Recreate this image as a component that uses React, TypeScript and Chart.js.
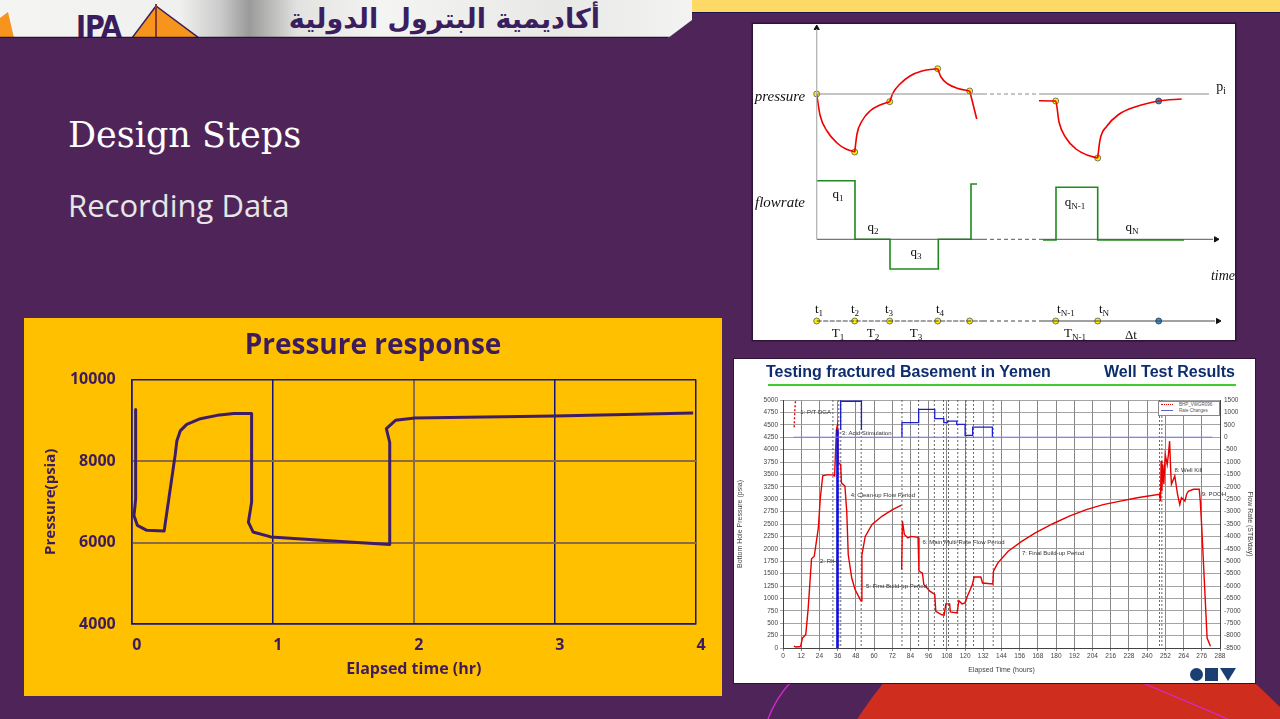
import React, { useEffect, useRef } from "react";
import { Chart, registerables } from "chart.js";
Chart.register(...registerables);

// ---------------- Main chart: Pressure response ----------------
const elapsedHours = [0.028, 0.028, 0.022, 0.016, 0.04, 0.107, 0.23, 0.309, 0.32, 0.344, 0.39, 0.487, 0.606, 0.724, 0.85, 0.85, 0.827, 0.86, 0.986, 1.342, 1.829, 1.829, 1.805, 1.87, 2.007, 3.0, 3.98];
const pressurePsia = [9268, 7073, 6850, 6666, 6422, 6300, 6285, 8170, 8495, 8740, 8902, 9040, 9122, 9170, 9170, 6992, 6500, 6260, 6138, 6056, 5951, 8456, 8797, 9000, 9056, 9105, 9178];
const xTickValues = [0, 1, 2, 3, 4];
const yTickValues = [4000, 6000, 8000, 10000];

const TEXT_PURPLE = "#3D1C5C";
const LINE_PURPLE = "#3F1D66";
const NAVY = "#13157A";
const BROWN = "#8C6A46";
const SLIDE_BG = "#4F2559";

// ---------------- Schematic diagram (multi-rate test) ----------------
const drawdown1 = [[63.7, 70], [67, 91], [74, 107], [84, 119], [93, 125], [101.7, 128]];
const buildup2 = [[101.7, 128], [104, 110], [109, 97], [117, 87], [127, 81], [136.7, 77.7]];
const buildup3 = [[136.7, 77.7], [140, 69], [147, 60], [157, 52], [169, 47], [184.7, 44.7]];
const decline4 = [[184.7, 44.7], [188, 53], [195, 60], [205, 64.5], [216.7, 67]];
const drop5 = [[216.7, 67], [223.7, 95]];
const drawdownN = [[286, 76.7], [302.7, 77], [306, 98], [313, 114], [323, 125], [334, 131], [344.7, 134]];
const buildupN = [[344.7, 134], [347, 116], [354, 102], [365, 91], [382, 83], [405.7, 77], [428.7, 75]];
const rateSteps1 = [[63.7, 156.7], [102, 156.7], [102, 215.3], [137, 215.3], [137, 245], [185.3, 245], [185.3, 215.3], [218, 215.3], [218, 160], [224, 160]];
const rateSteps2 = [[290, 216], [303, 216], [303, 163.3], [344.7, 163.3], [344.7, 216], [431, 216]];
const timePoints = [63.7, 101.7, 136.7, 184.7, 216.7, 302.7, 344.7];
const pressurePoints = [[63.7, 70], [101.7, 128], [136.7, 77.7], [184.7, 44.7], [216.7, 67], [302.7, 77], [344.7, 134]];

// ---------------- Well test results ----------------
const bhpSeries: [number, number | null][] = [
  [7.2, 40], [8.5, 20], [11.6, 30], [12.8, 200], [15, 270], [16.6, 800], [18.8, 1800], [20.6, 1850], [23.3, 2420], [24.6, 3030],
  [26.2, 3470], [28.5, 3490], [33, 3490], [34, 3470], [35.2, 4400], [35.9, 4500], [36.3, 3735], [38, 3700], [38.5, 3330], [40.8, 3265],
  [42, 2760], [43, 1880], [45.3, 1410], [47.5, 1180], [50.9, 975], [51.5, 950], [52, 1880], [54.2, 2250], [58.7, 2490], [65.4, 2660],
  [72.2, 2790], [78.1, 2880], [78.15, null], [78.2, 1580], [78.7, 2560], [80, 2290], [82.3, 2220], [84.5, 2250], [89, 2230], [89.6, 1550],
  [91.9, 1510], [92.8, 1280], [96.8, 1145], [100, 1080], [100.7, 740], [104.7, 670], [106.2, 660], [107.3, 890], [109.8, 890], [110.3, 727],
  [114.7, 707], [115.9, 955], [118, 890], [119.9, 910], [121.5, 1043], [124.8, 1280], [126, 1430], [130.4, 1430], [131.5, 1310], [138.3, 1290],
  [138.7, 1550], [141.6, 1716], [148.4, 1950], [157.3, 2150], [166.3, 2320], [177.5, 2500], [188.7, 2660], [199.9, 2790], [211, 2890], [222.3, 2960],
  [233.5, 3030], [248, 3100], [248.8, 2960], [249.2, 3770], [249.7, 3160], [250.3, 3700], [251, 3300], [251.9, 3900], [253.2, 3700], [254, 3900],
  [254.8, 4170], [255.5, 3570], [256, 3300], [258.2, 3470], [260, 3100], [261.5, 2890], [262.6, 3030], [264.9, 2960], [266, 3100], [267.1, 3160],
  [270.5, 3200], [274.3, 3200], [275, 2960], [276, 2420], [277.9, 1210], [279.5, 200], [281.7, 34],
];
const bhpDotted = [[7.4, 4450], [7.8, 4800], [8.3, 5000]];
const rateSteps: [number, number | null][] = [
  [38, 300], [38, 1450], [51.7, 1450], [51.7, 300], [60, null],
  [78.4, 0], [78.4, 585], [89.4, 585], [89.4, 1120], [100, 1120], [100, 746], [106, 746], [106, 585], [108.5, 585], [108.5, 650],
  [114.5, 650], [114.5, 517], [120, 517], [120, 73], [125, 73], [125, 410], [138, 410], [138, 0],
];
const injectionSpike = [[35.9, 300], [35.9, -8500]];
const rateBaseline = [[7, 0], [283, 0]];
const eventTimes = [32.9, 36.8, 38.1, 51.5, 78.4, 89.4, 99.7, 105.8, 109.1, 115.2, 120.6, 125.5, 138.5, 248.1, 249.7];
const eventLabels = ["1: P/T DGA", "2: RIH", "3: Acid Stimulation", "4: Clean-up Flow Period", "5: First Build-up Period", "6: Main Multi-Rate Flow Period", "7: Final Build-up Period", "8: Well Kill", "9: POOH"];
const eventLabelHours = [9.4, 22.4, 36.8, 42.6, 52.7, 90, 155.5, 256, 274];
const eventLabelPsi = [4760, 1750, 4330, 3075, 1245, 2130, 1900, 3590, 3100];

const pts = (arr: any[]) => arr.map(([x, y]) => ({ x, y }));
const plain = (v: any) => String(v);

function makeMain(canvas: HTMLCanvasElement) {
  const font = "'Open Sans', 'DejaVu Sans', sans-serif";
  return new Chart(canvas, {
    type: "scatter",
    data: {
      datasets: [
        {
          data: elapsedHours.map((x, i) => ({ x, y: pressurePsia[i] })),
          showLine: true,
          borderColor: LINE_PURPLE,
          borderWidth: 3,
          pointRadius: 0,
          tension: 0,
          borderJoinStyle: "round",
        } as any,
      ],
    },
    options: {
      responsive: false,
      animation: false,
      layout: { autoPadding: false, padding: { left: 26, right: 26, top: 0, bottom: 0 } },
      plugins: {
        legend: { display: false },
        tooltip: { enabled: false },
        title: {
          display: true,
          text: "Pressure response",
          color: TEXT_PURPLE,
          font: { family: font, size: 28, weight: "bold", lineHeight: 1.2 },
          padding: { top: 11, bottom: 17 },
        },
      },
      scales: {
        x: {
          type: "linear",
          min: 0,
          max: 4,
          afterBuildTicks: (s: any) => { s.ticks = xTickValues.map((v) => ({ value: v })); },
          ticks: { callback: plain, color: TEXT_PURPLE, font: { family: font, size: 16, weight: "bold" }, padding: 12, labelOffset: 5 },
          grid: {
            drawTicks: false,
            color: (c: any) => (c.tick && c.tick.value === 2 ? BROWN : NAVY),
            lineWidth: (c: any) => (c.tick && c.tick.value === 2 ? 2 : 1.5),
          },
          border: { display: true, color: NAVY, width: 1.5 },
          title: {
            display: true,
            text: "Elapsed time (hr)",
            color: TEXT_PURPLE,
            font: { family: font, size: 16, weight: "bold", lineHeight: 1.2 },
            padding: { top: 0, bottom: 17 },
          },
          afterFit: (s: any) => { s.height = 72; },
        },
        y: {
          type: "linear",
          min: 4000,
          max: 10000,
          afterBuildTicks: (s: any) => { s.ticks = yTickValues.map((v) => ({ value: v })); },
          ticks: { callback: plain, color: TEXT_PURPLE, font: { family: font, size: 16, weight: "bold" }, padding: 16 },
          grid: {
            drawTicks: false,
            color: (c: any) => (c.tick && (c.tick.value === 6000 || c.tick.value === 8000) ? BROWN : NAVY),
            lineWidth: (c: any) => (c.tick && (c.tick.value === 6000 || c.tick.value === 8000) ? 2 : 1.5),
          },
          border: { display: true, color: NAVY, width: 1.5 },
          title: {
            display: true,
            text: "Pressure(psia)",
            color: TEXT_PURPLE,
            font: { family: font, size: 15, weight: "bold", lineHeight: 1.2 },
            padding: { top: -8, bottom: 0 },
          },
          afterFit: (s: any) => { s.width = 81.7; },
        },
      },
    } as any,
  });
}

function makeDiagram(canvas: HTMLCanvasElement) {
  const red = (d: any[]) => ({ data: pts(d), showLine: true, borderColor: "#F00000", borderWidth: 1.6, pointRadius: 0, cubicInterpolationMode: "monotone" });
  const green = (d: any[]) => ({ data: pts(d), showLine: true, borderColor: "#1F8A1F", borderWidth: 1.6, pointRadius: 0, tension: 0 });
  const seg = (d: any[], color: string, dash?: number[], w = 1) => ({ data: pts(d), showLine: true, borderColor: color, borderWidth: w, pointRadius: 0, tension: 0, borderDash: dash || [] });
  return new Chart(canvas, {
    type: "scatter",
    data: {
      datasets: [
        seg([[63.7, 5], [63.7, 215]], "#B0B0B0", undefined, 1.2),
        seg([[63.7, 70], [230, 70]], "#8A8A8A"),
        seg([[230, 70], [287, 70]], "#8A8A8A", [4, 3]),
        seg([[287, 70], [456, 70]], "#8A8A8A"),
        seg([[63.7, 215.3], [230, 215.3]], "#555"),
        seg([[230, 215.3], [290, 215.3]], "#555", [4, 3]),
        seg([[290, 215.3], [460, 215.3]], "#555"),
        seg([[63.7, 297], [230, 297]], "#444", [5, 1.5]),
        seg([[230, 297], [290, 297]], "#444", [4, 3]),
        seg([[290, 297], [462, 297]], "#444"),
        red(drawdown1), red(buildup2), red(buildup3), red(decline4), seg(drop5, "#F00000", undefined, 1.6),
        red(drawdownN), red(buildupN),
        green(rateSteps1), green(rateSteps2),
        {
          data: [...pressurePoints.map(([x, y]) => ({ x, y })), ...timePoints.map((x) => ({ x, y: 297 }))],
          pointRadius: 3, pointBackgroundColor: "#FFF200", pointBorderColor: "#555", pointBorderWidth: 0.8, showLine: false,
        },
        {
          data: [{ x: 405.7, y: 77 }, { x: 405.7, y: 297 }],
          pointRadius: 3, pointBackgroundColor: "#2F8FE0", pointBorderColor: "#333", pointBorderWidth: 0.8, showLine: false,
        },
        {
          data: [{ x: 63.7, y: 4 }, { x: 463, y: 215.3 }, { x: 465, y: 297 }],
          pointStyle: "triangle", pointRadius: 3, pointRotation: [0, 90, 90], pointBackgroundColor: "#111", pointBorderColor: "#111", showLine: false,
        },
      ] as any,
    },
    options: {
      responsive: false,
      animation: false,
      layout: { autoPadding: false, padding: 0 },
      plugins: { legend: { display: false }, tooltip: { enabled: false } },
      scales: {
        x: { type: "linear", min: 0, max: 482, display: false },
        y: { type: "linear", min: 0, max: 316, reverse: true, display: false },
      },
    } as any,
  });
}

const eventPlugin = {
  id: "events",
  beforeDatasetsDraw(chart: any) {
    const { ctx, chartArea, scales } = chart;
    ctx.save();
    ctx.strokeStyle = "#444";
    ctx.lineWidth = 0.8;
    ctx.setLineDash([2, 2]);
    eventTimes.forEach((t) => {
      const x = scales.x.getPixelForValue(t);
      ctx.beginPath();
      ctx.moveTo(x, chartArea.top);
      ctx.lineTo(x, chartArea.bottom);
      ctx.stroke();
    });
    ctx.restore();
  },
  afterDatasetsDraw(chart: any) {
    const { ctx, scales } = chart;
    ctx.save();
    ctx.font = "6px 'Liberation Sans', Arial, sans-serif";
    ctx.fillStyle = "#333";
    ctx.textBaseline = "middle";
    eventLabels.forEach((txt, i) => {
      const x = scales.x.getPixelForValue(eventLabelHours[i]);
      const y = scales.y.getPixelForValue(eventLabelPsi[i]);
      ctx.fillText(txt, x + 3, y);
    });
    ctx.restore();
  },
};

function makeWell(canvas: HTMLCanvasElement) {
  const f = "'Liberation Sans', Arial, sans-serif";
  return new Chart(canvas, {
    type: "scatter",
    data: {
      datasets: [
        { data: pts(rateBaseline), yAxisID: "y2", showLine: true, borderColor: "#7C7CE0", borderWidth: 1, pointRadius: 0 },
        { data: pts(rateSteps), yAxisID: "y2", showLine: true, spanGaps: false, borderColor: "#1F1FD0", borderWidth: 1.3, pointRadius: 0, tension: 0 },
        { data: pts(injectionSpike), yAxisID: "y2", showLine: true, borderColor: "#1010E0", borderWidth: 2.6, pointRadius: 0 },
        { data: pts(bhpSeries), yAxisID: "y", showLine: true, spanGaps: false, borderColor: "#E80000", borderWidth: 1.4, pointRadius: 0, tension: 0 },
        { data: pts(bhpDotted), yAxisID: "y", showLine: true, borderColor: "#E80000", borderWidth: 1.4, borderDash: [2, 2], pointRadius: 0 },
      ] as any,
    },
    plugins: [eventPlugin],
    options: {
      responsive: false,
      animation: false,
      layout: { autoPadding: false, padding: { top: 41, left: 0, right: 0, bottom: 0 } },
      plugins: { legend: { display: false }, tooltip: { enabled: false } },
      scales: {
        x: {
          type: "linear", min: 0, max: 288,
          ticks: { callback: plain, stepSize: 12, color: "#444", font: { family: f, size: 6.5 }, padding: 1, maxRotation: 0, autoSkip: false },
          grid: { color: "#6A6A6A", lineWidth: 0.8, tickLength: 3 },
          border: { color: "#444" },
          title: { display: true, text: "Elapsed Time (hours)", color: "#444", font: { family: f, size: 7 }, padding: { top: 0, bottom: 9 } },
          afterFit: (s: any) => { s.height = 35; },
        },
        y: {
          type: "linear", min: 0, max: 5000,
          ticks: { callback: plain, stepSize: 250, color: "#444", font: { family: f, size: 6.5 }, padding: 2, autoSkip: false },
          grid: { color: "#9A9A9A", lineWidth: 0.9, tickLength: 3 },
          border: { color: "#444" },
          title: { display: true, text: "Bottom Hole Pressure (psia)", color: "#444", font: { family: f, size: 7 }, padding: { top: 2, bottom: 0 } },
          afterFit: (s: any) => { s.width = 49; },
        },
        y2: {
          type: "linear", position: "right", min: -8500, max: 1500,
          ticks: { callback: plain, stepSize: 500, color: "#444", font: { family: f, size: 6.5 }, padding: 1, autoSkip: false },
          grid: { display: false, tickLength: 3 },
          border: { color: "#444" },
          title: { display: true, text: "Flow Rate (STB/day)", color: "#444", font: { family: f, size: 7 }, padding: { top: 1, bottom: 0 } },
          afterFit: (s: any) => { s.width = 35; },
        },
      },
    } as any,
  });
}

const serif = "'Liberation Serif', 'Times New Roman', serif";

function Lbl(props: { x: number; y: number; children: any; size?: number; italic?: boolean; color?: string }) {
  return (
    <div
      style={{
        position: "absolute",
        left: props.x,
        top: props.y,
        transform: "translate(-50%, -50%)",
        fontFamily: serif,
        fontSize: props.size || 13,
        fontStyle: props.italic ? "italic" : "normal",
        color: props.color || "#111",
        whiteSpace: "nowrap",
        lineHeight: 1,
      }}
    >
      {props.children}
    </div>
  );
}

const subStyle: React.CSSProperties = { fontSize: "0.7em", verticalAlign: "-0.25em" };

export default function App() {
  const mainRef = useRef<HTMLCanvasElement>(null);
  const diagRef = useRef<HTMLCanvasElement>(null);
  const wellRef = useRef<HTMLCanvasElement>(null);

  useEffect(() => {
    const charts: Chart[] = [];
    if (mainRef.current) charts.push(makeMain(mainRef.current));
    if (diagRef.current) charts.push(makeDiagram(diagRef.current));
    if (wellRef.current) charts.push(makeWell(wellRef.current));
    return () => charts.forEach((c) => c.destroy());
  }, []);

  return (
    <div style={{ position: "fixed", left: 0, top: 0, width: 1280, height: 719, background: SLIDE_BG, overflow: "hidden" }}>
      {/* background shapes */}
      <svg width={1280} height={719} style={{ position: "absolute", left: 0, top: 0 }}>
        <circle cx={1194} cy={935} r={400} fill="#CF2E1F" />
        <polygon points="1254,480 1280,480 1280,707 1254,682" fill={SLIDE_BG} />
        <path d="M 768 719 Q 776 698 790 683" stroke="#D22AD0" strokeWidth={1.3} fill="none" />
        <line x1={1143} y1={683} x2={1228} y2={719} stroke="#D22AD0" strokeWidth={1.3} />
      </svg>

      {/* top strip & banner */}
      <div style={{ position: "absolute", left: 680, top: 0, width: 600, height: 11.5, background: "#FFD966", borderBottom: "1.5px solid #1B1450" }} />
      <div
        style={{
          position: "absolute", left: 0, top: 0, width: 692, height: 38,
          background: "linear-gradient(90deg, #F4F4F2 0%, #F0F0EE 26%, #C9C9C9 32%, #9A9A9A 36%, #E2E2E0 43%, #F4F4F2 55%, #E8E8E6 80%, #F3F3F1 100%)",
          clipPath: "polygon(0 0, 692px 0, 692px 20px, 668px 38px, 0 38px)",
          overflow: "hidden",
        }}
      >
        <svg width={692} height={38} style={{ position: "absolute", left: 0, top: 0 }}>
          <polygon points="0,18 8,12 14,38 0,38" fill="#F7941D" />
          <polygon points="156,6 132,38 199,38" fill="#F7941D" stroke="#3A1D5C" strokeWidth={1.5} />
          <line x1={156} y1={4} x2={156} y2={38} stroke="#8B3A2A" strokeWidth={2} />
          <line x1={0} y1={37.5} x2={692} y2={37.5} stroke="#1E1A2A" strokeWidth={1.5} />
        </svg>
        <div style={{ position: "absolute", left: 76, top: 12, fontFamily: "'DejaVu Sans Condensed', 'DejaVu Sans', sans-serif", fontWeight: 700, fontSize: 30, color: "#3A1D5C", lineHeight: 1, letterSpacing: -1 }}>IPA</div>
        <div style={{ position: "absolute", left: 250, width: 350, top: 2, direction: "rtl", textAlign: "right", fontFamily: "'DejaVu Sans', sans-serif", fontWeight: 700, fontSize: 27, color: "#3B1E5E", lineHeight: "34px", whiteSpace: "nowrap" }}>
          أكاديمية البترول الدولية
        </div>
      </div>

      {/* slide titles */}
      <div style={{ position: "absolute", left: 68, top: 118, fontFamily: "'DejaVu Serif', serif", fontSize: 35, color: "#FFFFFF", lineHeight: 1, whiteSpace: "nowrap" }}>Design Steps</div>
      <div style={{ position: "absolute", left: 68, top: 190, fontFamily: "'Open Sans', sans-serif", fontSize: 31, color: "#E6E6E6", lineHeight: 1, whiteSpace: "nowrap" }}>Recording Data</div>

      {/* main chart */}
      <div style={{ position: "absolute", left: 24, top: 318, width: 698, height: 378, background: "#FFC000" }}>
        <canvas ref={mainRef} width={698} height={378} style={{ display: "block" }} />
      </div>

      {/* schematic diagram */}
      <div style={{ position: "absolute", left: 753, top: 24, width: 482, height: 316, background: "#FFFFFF", boxShadow: "0 0 0 1.5px #2E1238" }}>
        <canvas ref={diagRef} width={482} height={316} style={{ display: "block", position: "absolute", left: 0, top: 0 }} />
        <Lbl x={27} y={72} size={15} italic>pressure</Lbl>
        <Lbl x={27} y={178} size={15} italic>flowrate</Lbl>
        <Lbl x={470} y={252} size={14} italic>time</Lbl>
        <Lbl x={468} y={64} size={14}>p<span style={subStyle}>i</span></Lbl>
        <Lbl x={85} y={171}>q<span style={subStyle}>1</span></Lbl>
        <Lbl x={120} y={204}>q<span style={subStyle}>2</span></Lbl>
        <Lbl x={163} y={229}>q<span style={subStyle}>3</span></Lbl>
        <Lbl x={322} y={179}>q<span style={subStyle}>N-1</span></Lbl>
        <Lbl x={379} y={204}>q<span style={subStyle}>N</span></Lbl>
        <Lbl x={66} y={286}>t<span style={subStyle}>1</span></Lbl>
        <Lbl x={102} y={286}>t<span style={subStyle}>2</span></Lbl>
        <Lbl x={136} y={286}>t<span style={subStyle}>3</span></Lbl>
        <Lbl x={187} y={286}>t<span style={subStyle}>4</span></Lbl>
        <Lbl x={313} y={286}>t<span style={subStyle}>N-1</span></Lbl>
        <Lbl x={351} y={286}>t<span style={subStyle}>N</span></Lbl>
        <Lbl x={85} y={310}>T<span style={subStyle}>1</span></Lbl>
        <Lbl x={120} y={310}>T<span style={subStyle}>2</span></Lbl>
        <Lbl x={163} y={310}>T<span style={subStyle}>3</span></Lbl>
        <Lbl x={322} y={310}>T<span style={subStyle}>N-1</span></Lbl>
        <Lbl x={378} y={310}>Δt</Lbl>
      </div>

      {/* well test results */}
      <div style={{ position: "absolute", left: 734, top: 359, width: 521, height: 324, background: "#FFFFFF", boxShadow: "0 0 0 1px #2E1238" }}>
        <canvas ref={wellRef} width={521} height={324} style={{ display: "block", position: "absolute", left: 0, top: 0 }} />
        <div style={{ position: "absolute", left: 32, top: 4, fontFamily: "'Liberation Sans', Arial, sans-serif", fontWeight: 700, fontSize: 16, color: "#0E2D6E", whiteSpace: "nowrap" }}>Testing fractured Basement in Yemen</div>
        <div style={{ position: "absolute", right: 20, top: 4, fontFamily: "'Liberation Sans', Arial, sans-serif", fontWeight: 700, fontSize: 16, color: "#0E2D6E", whiteSpace: "nowrap" }}>Well Test Results</div>
        <div style={{ position: "absolute", left: 34, top: 25, width: 468, height: 2, background: "#3FCC2F" }} />
        <div style={{ position: "absolute", left: 424, top: 42, width: 60, height: 13, border: "0.8px solid #888", background: "#fff", fontFamily: "'Liberation Sans', Arial, sans-serif", fontSize: 4.5, color: "#555" }}>
          <div style={{ position: "absolute", left: 2, top: 2, width: 12, borderTop: "1.2px dotted #E00000" }} />
          <div style={{ position: "absolute", left: 20, top: 0, lineHeight: "5px" }}>BHP_VWGR096</div>
          <div style={{ position: "absolute", left: 2, top: 8, width: 12, borderTop: "1px solid #6060D0" }} />
          <div style={{ position: "absolute", left: 20, top: 6, lineHeight: "5px" }}>Rate Changes</div>
        </div>
        {/* OMV logo */}
        <div style={{ position: "absolute", left: 456, top: 309, width: 13, height: 13, borderRadius: "50%", background: "#1B3F73" }} />
        <div style={{ position: "absolute", left: 471, top: 309, width: 13, height: 13, background: "#1B3F73" }} />
        <svg width={16} height={14} style={{ position: "absolute", left: 486, top: 309 }}>
          <polygon points="0,0 16,0 8,13" fill="#1B3F73" />
        </svg>
      </div>
    </div>
  );
}
